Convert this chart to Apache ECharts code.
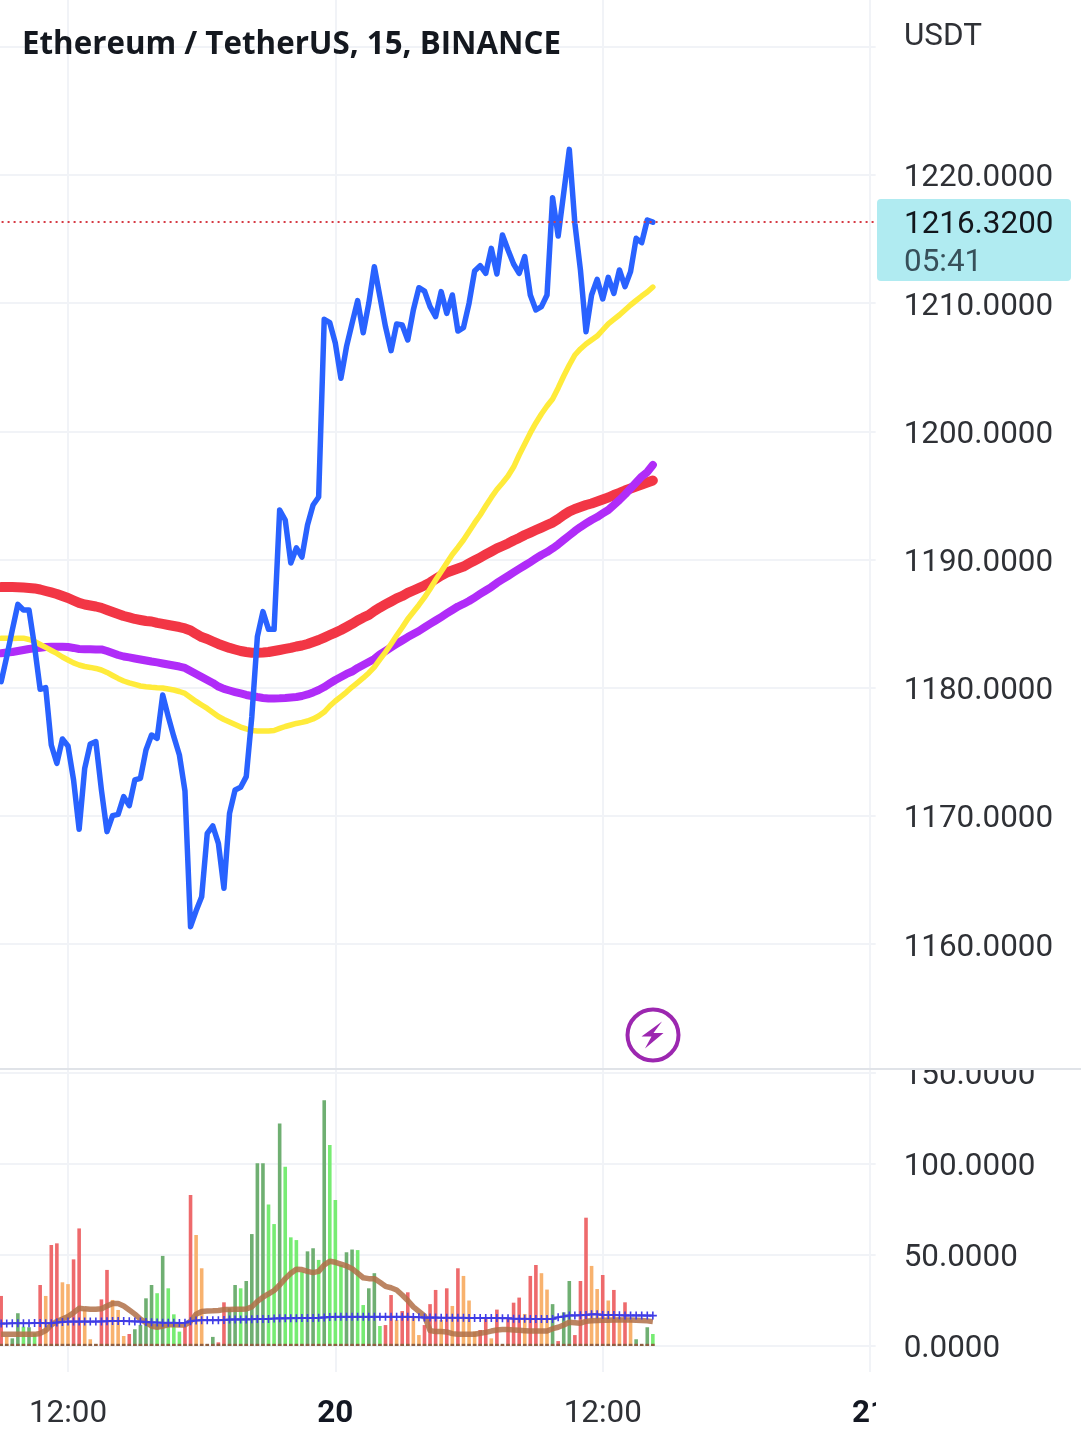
<!DOCTYPE html>
<html>
<head>
<meta charset="utf-8">
<title>Ethereum / TetherUS, 15, BINANCE</title>
<style>
    html, body {margin: 0; padding: 0; background: #fff;}
    #main {width: 1081px; height: 1446px;}
</style>
<script src="https://cdn.jsdelivr.net/npm/echarts@6/dist/echarts.min.js"></script>
</head>
<body>
<div id="main"></div>
<script>
//15 minute bars, the first one is 09:00 on the 19th
var priceLine = [
    1180.48, 1182.43, 1184.51, 1186.51, 1186.07, 1186.07, 1183.21, 1179.88, 1180.01, 1175.54, 1174.11, 1176.01,
    1175.46, 1172.81, 1168.96, 1173.72, 1175.62, 1175.8, 1172.03, 1168.78, 1170.03, 1170.13, 1171.51, 1170.81,
    1172.81, 1172.94, 1175.15, 1176.32, 1176.06, 1179.44, 1177.75, 1176.19, 1174.76, 1171.95, 1161.37, 1162.6,
    1163.71, 1168.65, 1169.22, 1167.87, 1164.36, 1170.21, 1172.03, 1172.24, 1173.07, 1177.75, 1183.99, 1185.94,
    1184.56, 1184.56, 1193.87, 1193.09, 1189.74, 1190.91, 1190.2, 1192.7, 1194.26, 1194.88, 1208.74, 1208.48,
    1206.87, 1204.14, 1206.61, 1208.43, 1210.2, 1207.7, 1209.99, 1212.85, 1210.51, 1208.17, 1206.3, 1208.38,
    1208.3, 1207.13, 1209.47, 1211.21, 1210.95, 1209.73, 1208.95, 1210.9, 1209.21, 1210.64, 1207.83, 1208.09,
    1209.99, 1212.51, 1212.93, 1212.33, 1214.28, 1212.28, 1215.32, 1214.15, 1213.06, 1212.33, 1213.63, 1210.64,
    1209.47, 1209.73, 1210.64, 1218.23, 1215.24, 1218.6, 1222.0, 1216.23, 1212.59, 1207.78, 1210.64, 1211.86,
    1210.33, 1212.02, 1210.77, 1212.59, 1211.29, 1212.46, 1215.06, 1214.72, 1216.49, 1216.32
];
var maFast = [
    1183.86, 1183.86, 1183.85, 1183.87, 1183.87, 1183.77, 1183.61, 1183.38, 1183.15, 1182.91, 1182.68, 1182.4,
    1182.17, 1181.94, 1181.78, 1181.66, 1181.59, 1181.51, 1181.39, 1181.2, 1180.96, 1180.73, 1180.53, 1180.38,
    1180.26, 1180.14, 1180.08, 1180.04, 1180.01, 1179.99, 1179.91, 1179.83, 1179.71, 1179.56, 1179.25, 1178.94,
    1178.66, 1178.39, 1178.08, 1177.76, 1177.53, 1177.33, 1177.14, 1176.94, 1176.79, 1176.67, 1176.63, 1176.63,
    1176.63, 1176.67, 1176.83, 1176.98, 1177.1, 1177.22, 1177.3, 1177.41, 1177.57, 1177.8, 1178.11, 1178.58,
    1178.97, 1179.32, 1179.67, 1180.06, 1180.41, 1180.77, 1181.16, 1181.62, 1182.21, 1182.79, 1183.42, 1184.08,
    1184.7, 1185.37, 1185.91, 1186.46, 1187.05, 1187.71, 1188.41, 1189.07, 1189.74, 1190.4, 1190.95, 1191.53,
    1192.19, 1192.86, 1193.48, 1194.18, 1194.85, 1195.47, 1195.98, 1196.52, 1197.22, 1198.16, 1199.02, 1199.88,
    1200.66, 1201.36, 1201.98, 1202.53, 1203.39, 1204.32, 1205.18, 1205.96, 1206.43, 1206.82, 1207.13, 1207.44,
    1207.91, 1208.38, 1208.73, 1209.08, 1209.47, 1209.86, 1210.21, 1210.56, 1210.87, 1211.26
];
var maMiddle = [
    1182.69, 1182.75, 1182.79, 1182.87, 1182.95, 1183.03, 1183.08, 1183.13, 1183.18, 1183.2, 1183.21, 1183.21,
    1183.18, 1183.11, 1183.03, 1183.01, 1183.01, 1182.99, 1182.99, 1182.87, 1182.72, 1182.56, 1182.44, 1182.37,
    1182.29, 1182.21, 1182.13, 1182.05, 1181.98, 1181.9, 1181.82, 1181.74, 1181.66, 1181.55, 1181.31, 1181.08,
    1180.84, 1180.61, 1180.38, 1180.1, 1179.91, 1179.79, 1179.67, 1179.56, 1179.44, 1179.36, 1179.28, 1179.21,
    1179.17, 1179.17, 1179.18, 1179.21, 1179.25, 1179.28, 1179.36, 1179.48, 1179.64, 1179.83, 1180.06, 1180.34,
    1180.61, 1180.84, 1181.08, 1181.27, 1181.55, 1181.78, 1182.01, 1182.25, 1182.6, 1182.87, 1183.15, 1183.42,
    1183.69, 1183.96, 1184.2, 1184.43, 1184.71, 1184.98, 1185.25, 1185.52, 1185.8, 1186.07, 1186.34, 1186.54,
    1186.77, 1187.04, 1187.32, 1187.59, 1187.86, 1188.18, 1188.45, 1188.72, 1189.0, 1189.27, 1189.54, 1189.81,
    1190.09, 1190.36, 1190.59, 1190.87, 1191.18, 1191.53, 1191.88, 1192.23, 1192.54, 1192.82, 1193.09, 1193.32,
    1193.6, 1193.87, 1194.26, 1194.65, 1195.08, 1195.55, 1196.02, 1196.48, 1196.83, 1197.38
];
var maSlow = [
    1187.86, 1187.86, 1187.86, 1187.85, 1187.82, 1187.79, 1187.75, 1187.67, 1187.55, 1187.44, 1187.32, 1187.16,
    1187.01, 1186.81, 1186.62, 1186.5, 1186.42, 1186.34, 1186.23, 1186.07, 1185.91, 1185.76, 1185.6, 1185.49,
    1185.37, 1185.29, 1185.21, 1185.17, 1185.06, 1184.98, 1184.9, 1184.82, 1184.74, 1184.63, 1184.47, 1184.2,
    1183.96, 1183.81, 1183.61, 1183.42, 1183.26, 1183.11, 1182.99, 1182.87, 1182.79, 1182.73, 1182.73, 1182.75,
    1182.79, 1182.87, 1182.95, 1183.03, 1183.11, 1183.22, 1183.3, 1183.42, 1183.57, 1183.73, 1183.92, 1184.12,
    1184.31, 1184.51, 1184.74, 1184.98, 1185.25, 1185.48, 1185.68, 1185.99, 1186.26, 1186.5, 1186.73, 1186.97,
    1187.16, 1187.4, 1187.59, 1187.79, 1187.98, 1188.21, 1188.49, 1188.76, 1188.99, 1189.15, 1189.31, 1189.46,
    1189.7, 1189.93, 1190.16, 1190.4, 1190.63, 1190.87, 1191.06, 1191.26, 1191.49, 1191.69, 1191.92, 1192.11,
    1192.31, 1192.5, 1192.7, 1192.89, 1193.17, 1193.48, 1193.75, 1193.95, 1194.1, 1194.26, 1194.38, 1194.53,
    1194.69, 1194.84, 1195.04, 1195.2, 1195.39, 1195.55, 1195.7, 1195.86, 1196.01, 1196.17
];
var volumes = [
    27.5, 5, 4.2, 18, 10.6, 10.3, 7, 33.5, 27.5, 55.5, 56.4, 35,
    34, 47.6, 64.6, 20, 3.7, 1, 25.6, 41.8, 25.3, 19.8, 5.5, 6.6,
    9.2, 11.5, 26.2, 33.5, 29, 49.5, 31.7, 17.4, 7.9, 10.6, 83, 61,
    42.7, 1, 5, 2, 24, 20.7, 33.5, 31.7, 35.7, 61.5, 100.4, 100.4,
    77.8, 67, 122.3, 98.5, 59.7, 58.2, 40.8, 52, 53.7, 47.3, 135, 110.4,
    80.2, 44.5, 51.5, 53, 52.7, 22.5, 31.7, 40, 11, 11.5, 28, 14.3,
    19.2, 29.5, 16, 6, 11.5, 23, 30.8, 14.3, 31.7, 22, 42.7, 38.5,
    25, 8, 8.8, 15.2, 4.2, 20, 0.5, 15, 23.8, 26.6, 17.6, 38.5,
    44.5, 40, 31, 23, 2.7, 18.5, 35.7, 6, 35.7, 70.5, 44, 31.3,
    39, 25, 30.8, 16, 24, 14.3, 3.7, 0.6, 10.3, 6.6
];
//R 下跌放量 O 下跌缩量 D 上涨放量 L 上涨缩量
var volumeKinds = [
    'R', 'O', 'D', 'D', 'L', 'D', 'L', 'R', 'O', 'R', 'R', 'O',
    'O', 'R', 'R', 'O', 'O', 'O', 'R', 'R', 'O', 'O', 'O', 'R',
    'D', 'D', 'D', 'D', 'L', 'D', 'L', 'L', 'L', 'R', 'R', 'O',
    'O', 'O', 'D', 'R', 'R', 'D', 'D', 'L', 'D', 'D', 'D', 'D',
    'L', 'L', 'D', 'L', 'L', 'L', 'L', 'D', 'D', 'L', 'D', 'L',
    'L', 'L', 'D', 'D', 'L', 'L', 'D', 'D', 'L', 'R', 'R', 'O',
    'R', 'R', 'O', 'O', 'R', 'R', 'R', 'O', 'R', 'O', 'R', 'O',
    'O', 'O', 'R', 'R', 'O', 'R', 'O', 'R', 'R', 'R', 'O', 'R',
    'R', 'O', 'O', 'D', 'R', 'D', 'D', 'R', 'R', 'R', 'O', 'O',
    'R', 'O', 'R', 'O', 'R', 'O', 'D', 'O', 'D', 'L'
];
var volumeAvgFlat = [
    12.3, 12.4, 12.5, 12.5, 12.5, 12.5, 12.6, 12.6, 12.5, 12.5, 12.9, 13.2,
    13.4, 13.4, 13.4, 13.4, 13.4, 13.4, 13.5, 13.6, 13.7, 13.7, 13.7, 13.6,
    13.5, 13.4, 13.2, 13.0, 12.9, 12.8, 12.8, 12.8, 12.7, 12.8, 13.6, 14.0,
    14.2, 14.2, 14.2, 14.2, 14.3, 14.5, 14.6, 14.6, 14.6, 14.7, 14.8, 14.8,
    14.9, 15.1, 15.2, 15.2, 15.3, 15.3, 15.4, 15.4, 15.4, 15.5, 15.7, 15.9,
    16, 16, 16, 16, 16, 16, 16, 16, 16, 16, 16, 16,
    16, 16, 15.9, 15.8, 15.6, 15.6, 15.6, 15.5, 15.5, 15.5, 15.5, 15.5,
    15.4, 15.4, 15.4, 15.4, 15.4, 15.4, 15.3, 15.3, 15, 15, 15, 14.9,
    14.9, 14.9, 14.8, 14.9, 15.8, 16.2, 16.8, 16.8, 16.9, 17, 17.4, 17.4,
    17, 17, 17, 16.9, 16.8, 16.8, 16.8, 16.8, 16.7, 16.7
];
var volumeAvgFast = [
    6.4, 6.4, 6.4, 6.4, 6.5, 6.5, 6.4, 6.9, 8.5, 11.5, 13.5, 14.8,
    16.2, 18.3, 20.7, 20.4, 20.2, 20.2, 20.5, 22, 23.4, 23.4, 22, 19.8,
    17.5, 14.8, 12.8, 11, 10.3, 11, 11.7, 11.7, 11.6, 11.5, 13.5, 17.5,
    18.9, 19.2, 19.3, 19.5, 20, 20.1, 20.2, 20.2, 20.3, 21.5, 24.5, 26.8,
    28.6, 30.5, 33.5, 37, 40, 42.2, 42, 41, 40.3, 41, 44.5, 46.6,
    46, 45, 44, 42.5, 40, 37.5, 37, 37, 35, 32.8, 32, 30.8,
    28, 25, 21.5, 19, 16.5, 8.5, 7.9, 7.9, 7.7, 6.8, 6.4, 6.4,
    6.4, 6.5, 7, 7.5, 8.2, 8.8, 9, 9, 8.8, 8.6, 8.4, 8.2,
    8.2, 8.2, 8.2, 9.5, 10.3, 11.5, 13, 12.8, 12.5, 13.6, 13.9, 14,
    14.1, 14.2, 14.3, 14.3, 14.3, 14.3, 14.2, 14, 13.8, 13.4
];
var baseMark = 1.2;
var lastPrice = 1216.32;
var countdown = '05:41';
var priceTicks = [1160, 1170, 1180, 1190, 1200, 1210, 1220];
var volumeTicks = [0, 50, 100, 150];
var xTickLabels = {'12:00a': '12:00', '00:00a': '20', '12:00b': '12:00', '00:00b': '21'};

//横轴: 一格15分钟, 比数据多出前面一格和后面的空白
var categories = [];
var tickIndexes = {};
(function () {
    var day = 'a', minutes = 8 * 60 + 45;
    var seenMidnight = false;
    for (var k = 0; k < 159; k++) {
        var h = Math.floor(minutes / 60) % 24, m = minutes % 60;
        var key = (h < 10 ? '0' + h : h) + ':' + (m < 10 ? '0' + m : m);
        if (key === '00:00' && seenMidnight) day = 'b';
        if (key === '00:00') seenMidnight = true;
        if (key === '12:00' && seenMidnight) day = 'b';
        categories.push(key);
        if (xTickLabels[key + day]) tickIndexes[k] = xTickLabels[key + day];
        minutes += 15;
    }
})();

function isTick(index) {
    return tickIndexes[index] !== undefined;
}
//数据从第二格开始
function pad(list) {
    return [null].concat(list);
}

var kindColors = {R: '#ee6a6c', O: '#f8b26e', D: '#6faf72', L: '#77ec73'};
var gridColor = '#f1f3f7';
var font = 'Roboto';
var fontSize = 31.4;
var inkColor = '#2f3136';

//纵轴文字比刻度线低一点
var tickTextRich = {
    t: {fontFamily: font, fontSize: fontSize, color: inkColor, padding: [7, 0, 0, 0]}
};

var chart = echarts.init(document.getElementById('main'), null, {renderer: 'canvas'});

function lineSeries(name, data, color, width) {
    return {
        name: name,
        type: 'line',
        xAxisIndex: 0,
        yAxisIndex: 0,
        data: pad(data),
        showSymbol: false,
        silent: true,
        animation: false,
        lineStyle: {color: color, width: width, join: 'round', cap: 'round'}
    };
}

var priceSeries = lineSeries('Price', priceLine, '#2962ff', 5.5);
priceSeries.markLine = {
    silent: true,
    animation: false,
    symbol: 'none',
    label: {show: false},
    lineStyle: {color: '#d63a44', type: [2, 4], width: 1.8},
    data: [{yAxis: lastPrice}]
};

var option = {
    animation: false,
    backgroundColor: '#fff',
    title: {
        text: 'Ethereum / TetherUS, 15, BINANCE',
        left: 22,
        top: 30,
        padding: 0,
        textStyle: {fontFamily: 'Open Sans', fontWeight: 'bold', fontSize: 31.3, color: '#14181f'}
    },
    grid: [
        {outerBoundsMode: 'none', left: -4.41, right: 205.35, top: -81.4, height: 1153.8},
        {outerBoundsMode: 'none', left: -4.41, right: 205.35, top: 1070, height: 302}
    ],
    xAxis: [
        {
            type: 'category',
            gridIndex: 0,
            data: categories,
            boundaryGap: false,
            axisLine: {show: false},
            axisTick: {show: false},
            axisLabel: {show: false},
            splitLine: {show: true, interval: isTick, lineStyle: {color: gridColor, width: 2}}
        },
        {
            type: 'category',
            gridIndex: 1,
            data: categories,
            boundaryGap: false,
            axisLine: {show: false},
            axisTick: {show: false},
            axisLabel: {
                interval: isTick,
                margin: 27,
                fontFamily: font,
                fontSize: fontSize,
                color: inkColor,
                hideOverlap: false,
                formatter: function (value, index) {
                    var text = tickIndexes[index];
                    return text.indexOf(':') > 0 ? text : '{day|' + text + '}';
                },
                rich: {day: {fontFamily: font, fontSize: fontSize, fontWeight: 'bold', color: '#131722'}}
            },
            splitLine: {show: true, interval: isTick, lineStyle: {color: gridColor, width: 2}}
        }
    ],
    yAxis: [
        {
            type: 'value',
            gridIndex: 0,
            position: 'right',
            min: 1150,
            max: 1240,
            interval: 10,
            axisLine: {show: false},
            axisTick: {show: false},
            axisLabel: {
                align: 'left',
                margin: 28,
                fontFamily: font,
                fontSize: fontSize,
                color: inkColor,
                rich: tickTextRich,
                formatter: function (value) {
                    return priceTicks.indexOf(value) >= 0 ? '{t|' + value.toFixed(4) + '}' : '';
                }
            },
            splitLine: {show: true, lineStyle: {color: gridColor, width: 2}}
        },
        {
            type: 'value',
            gridIndex: 1,
            position: 'right',
            min: -14.29,
            max: 151.65,
            axisLine: {show: false},
            axisTick: {show: false, customValues: volumeTicks},
            axisLabel: {
                customValues: volumeTicks,
                align: 'left',
                margin: 28,
                fontFamily: font,
                fontSize: fontSize,
                color: inkColor,
                rich: tickTextRich,
                formatter: function (value) {
                    return '{t|' + value.toFixed(4) + '}';
                }
            },
            splitLine: {show: true, customValues: volumeTicks, lineStyle: {color: gridColor, width: 2}}
        }
    ],
    series: [
        lineSeries('MA slow', maSlow, '#f23645', 10),
        lineSeries('MA middle', maMiddle, '#b02cf8', 8),
        lineSeries('MA fast', maFast, '#ffeb3b', 5.5),
        priceSeries,
        {
            name: 'Volume',
            type: 'bar',
            xAxisIndex: 1,
            yAxisIndex: 1,
            barWidth: 3.6,
            barGap: '-100%',
            silent: true,
            data: pad(volumes.map(function (value, i) {
                return {value: value, itemStyle: {color: kindColors[volumeKinds[i]]}};
            }))
        },
        {
            name: 'Base',
            type: 'bar',
            xAxisIndex: 1,
            yAxisIndex: 1,
            barWidth: 3.6,
            barGap: '-100%',
            silent: true,
            itemStyle: {color: '#8d5f42'},
            data: pad(volumes.map(function () {
                return baseMark;
            }))
        },
        {
            name: 'Volume MA fast',
            type: 'line',
            xAxisIndex: 1,
            yAxisIndex: 1,
            data: pad(volumeAvgFast),
            showSymbol: false,
            silent: true,
            lineStyle: {color: 'rgba(176,112,72,0.85)', width: 5.5, join: 'round'}
        },
        {
            name: 'Volume MA flat',
            type: 'line',
            xAxisIndex: 1,
            yAxisIndex: 1,
            data: pad(volumeAvgFlat),
            silent: true,
            showSymbol: true,
            showAllSymbol: true,
            symbol: 'path://M4 0h2v4h4v2h-4v4h-2v-4h-4v-2h4z',
            symbolSize: 8,
            itemStyle: {color: '#3f3ce6'},
            lineStyle: {color: '#3f3ce6', width: 2}
        }
    ],
    graphic: {
        elements: [
            //右侧价格牌
            {
                type: 'rect',
                z: 50,
                shape: {x: 877, y: 199, width: 194, height: 82, r: 4},
                style: {fill: '#b0ebf1'}
            },
            {
                type: 'text',
                z: 51,
                x: 904,
                y: 210,
                style: {text: lastPrice.toFixed(4), font: fontSize + 'px Roboto', fill: '#12161c'}
            },
            {
                type: 'text',
                z: 51,
                x: 904,
                y: 248,
                style: {text: countdown, font: fontSize + 'px Roboto', fill: '#37505a'}
            },
            {
                type: 'text',
                z: 51,
                x: 904,
                y: 22,
                style: {text: 'USDT', font: fontSize + 'px Roboto', fill: inkColor}
            },
            //盖住被窗格裁掉的刻度文字
            {
                type: 'rect',
                z: 60,
                shape: {x: 878, y: 1050, width: 203, height: 19},
                style: {fill: '#fff'}
            },
            {
                type: 'rect',
                z: 60,
                shape: {x: 876, y: 1385, width: 40, height: 50},
                style: {fill: '#fff'}
            },
            {
                type: 'line',
                z: 61,
                shape: {x1: 0, y1: 1069, x2: 1081, y2: 1069},
                style: {stroke: '#e0e3e8', lineWidth: 2}
            },
            //闪电图标
            {
                type: 'circle',
                z: 51,
                shape: {cx: 653, cy: 1035, r: 25.5},
                style: {fill: '#fff', stroke: '#9c27b0', lineWidth: 4}
            },
            {
                type: 'polygon',
                z: 52,
                shape: {points: [[662, 1021.5], [641.5, 1036.5], [651.5, 1036.5], [645, 1048.5], [663.5, 1033], [653.5, 1033]]},
                style: {fill: '#9c27b0'}
            }
        ]
    }
};
chart.setOption(option);
</script>
</body>
</html>
